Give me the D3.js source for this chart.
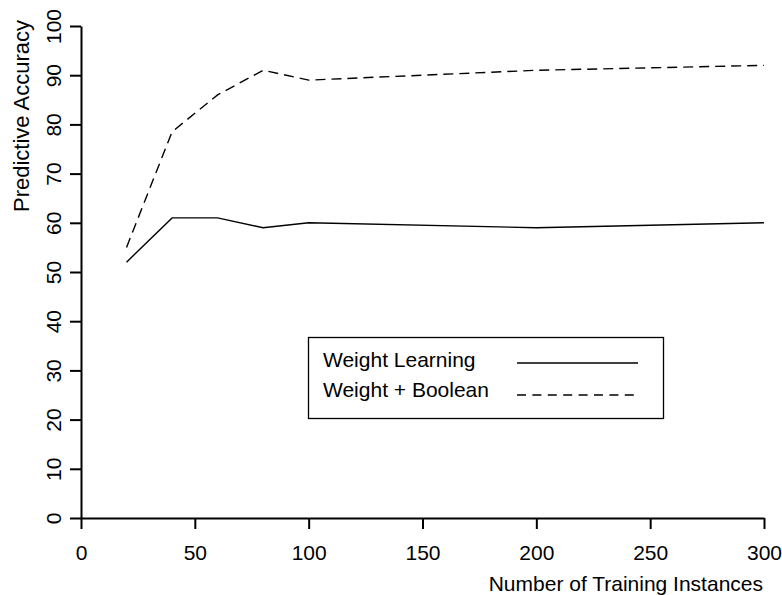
<!DOCTYPE html>
<html>
<head>
<meta charset="utf-8">
<script src="https://cdn.jsdelivr.net/npm/d3@7"></script>
<style>
  html, body { margin: 0; padding: 0; background: #fff; }
  svg { display: block; font-family: "Liberation Sans", Arial, Helvetica, sans-serif; }
</style>
</head>
<body>
<svg id="chart" width="782" height="595"></svg>
<script>
// Training set sizes (x) and accuracy (%) for each method
const trainingSizes = [20, 40, 60, 80, 100, 200, 300];
const weightLearning = [52, 61, 61, 59, 60, 59, 60];
const weightBoolean = [55, 78.5, 86, 91, 89, 91, 92];

const seriesNames = ["Weight Learning", "Weight + Boolean"];
const xTicks = [0, 50, 100, 150, 200, 250, 300];
const yTicks = [0, 10, 20, 30, 40, 50, 60, 70, 80, 90, 100];

const svg = d3.select("#chart");
const fontSize = 21;

const x = d3.scaleLinear().domain([0, 300]).range([81, 764]);
const y = d3.scaleLinear().domain([0, 100]).range([518, 26]);

// X axis
const xAxis = svg.append("g")
  .attr("transform", `translate(0,${y(0)})`)
  .call(d3.axisBottom(x).tickValues(xTicks).tickSize(11).tickSizeOuter(0));
xAxis.select(".domain").attr("stroke", "#000").attr("stroke-width", 2);
xAxis.selectAll(".tick line").attr("stroke", "#000").attr("stroke-width", 2);
xAxis.selectAll(".tick text")
  .attr("font-size", fontSize)
  .attr("font-family", null)
  .attr("fill", "#000")
  .attr("dy", null)
  .attr("y", 42);

// Y axis
const yAxis = svg.append("g")
  .attr("transform", `translate(${x(0)},0)`)
  .call(d3.axisLeft(y).tickValues(yTicks).tickSize(11).tickSizeOuter(0));
yAxis.select(".domain").attr("stroke", "#000").attr("stroke-width", 2);
yAxis.selectAll(".tick line").attr("stroke", "#000").attr("stroke-width", 2);
yAxis.selectAll(".tick text")
  .attr("font-size", fontSize)
  .attr("font-family", null)
  .attr("fill", "#000")
  .attr("x", null)
  .attr("dy", null)
  .attr("text-anchor", "middle")
  .attr("transform", "translate(-20,0) rotate(-90)");

// Axis titles
svg.append("text")
  .attr("x", 763)
  .attr("y", 591)
  .attr("text-anchor", "end")
  .attr("font-size", fontSize)
  .text("Number of Training Instances");

svg.append("text")
  .attr("transform", "translate(29,116) rotate(-90)")
  .attr("text-anchor", "middle")
  .attr("font-size", 22)
  .text("Predictive Accuracy");

// Lines
const line = d3.line()
  .x((d, i) => x(trainingSizes[i]))
  .y(d => y(d));

svg.append("path")
  .datum(weightLearning)
  .attr("fill", "none")
  .attr("stroke", "#000")
  .attr("stroke-width", 1.4)
  .attr("d", line);

svg.append("path")
  .datum(weightBoolean)
  .attr("fill", "none")
  .attr("stroke", "#000")
  .attr("stroke-width", 1.4)
  .attr("stroke-dasharray", "10,6")
  .attr("d", line);

// Legend
const legend = svg.append("g");
legend.append("rect")
  .attr("x", 308.5).attr("y", 337.5)
  .attr("width", 355).attr("height", 81)
  .attr("fill", "none").attr("stroke", "#000").attr("stroke-width", 1.3);

const dashes = [null, "9,6.4"];
seriesNames.forEach((name, i) => {
  const ly = 367 + i * 30;
  legend.append("text")
    .attr("x", 323).attr("y", ly)
    .attr("font-size", fontSize)
    .text(name);
  legend.append("line")
    .attr("x1", 517).attr("x2", 638)
    .attr("y1", ly - 4 + i * 2).attr("y2", ly - 4 + i * 2)
    .attr("stroke", "#000").attr("stroke-width", 1.4)
    .attr("stroke-dasharray", dashes[i]);
});
</script>
</body>
</html>
